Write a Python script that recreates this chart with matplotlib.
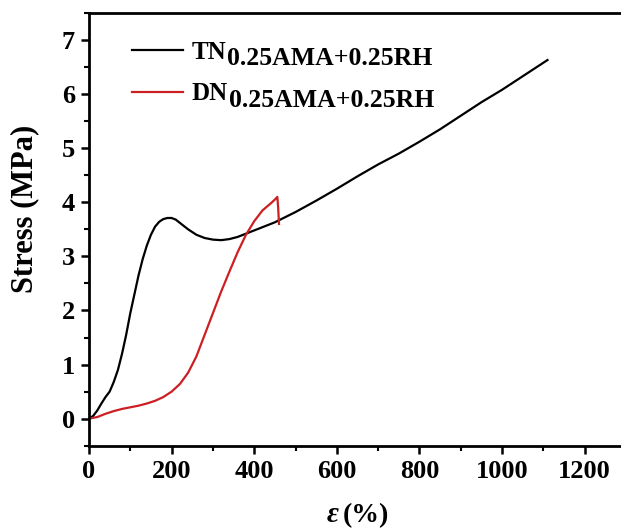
import matplotlib
matplotlib.use("Agg")
import matplotlib.pyplot as plt
from matplotlib.ticker import MultipleLocator

# Data
tn_x = [0, 10, 20, 30, 40, 50, 60, 70, 80, 90, 100, 110, 120, 130, 140, 150, 160, 170, 180,
        190, 200, 210, 220, 240, 260, 280, 300, 320, 340, 360, 380, 400, 450, 500, 550, 600,
        650, 700, 750, 800, 850, 900, 950, 1000, 1050, 1110]
tn_y = [0, 0.05, 0.15, 0.28, 0.4, 0.5, 0.68, 0.9, 1.2, 1.55, 1.95, 2.3, 2.65, 2.95, 3.2, 3.4,
        3.55, 3.64, 3.69, 3.71, 3.71, 3.68, 3.62, 3.5, 3.4, 3.34, 3.31, 3.3, 3.32, 3.36, 3.42,
        3.48, 3.63, 3.82, 4.03, 4.25, 4.48, 4.7, 4.9, 5.12, 5.35, 5.6, 5.85, 6.08, 6.33, 6.63]

dn_x = [0, 20, 40, 60, 80, 100, 120, 140, 160, 180, 200, 220, 240, 260, 280, 300, 320, 340,
        360, 380, 400, 420, 440, 450, 456, 458, 460]
dn_y = [0, 0.03, 0.09, 0.14, 0.18, 0.21, 0.24, 0.28, 0.33, 0.4, 0.5, 0.64, 0.85, 1.15, 1.55,
        1.95, 2.35, 2.72, 3.08, 3.4, 3.65, 3.85, 3.98, 4.05, 4.1, 3.9, 3.6]

x_ticks = [0, 200, 400, 600, 800, 1000, 1200]
y_ticks = [0, 1, 2, 3, 4, 5, 6, 7]

series_main = ['TN', 'DN']
series_sub = ['0.25AMA+0.25RH', '0.25AMA+0.25RH']
series_colors = ['black', '#cc1f24']

plt.rcParams['font.family'] = ['Liberation Serif', 'DejaVu Serif']

fig = plt.figure(figsize=(6.21, 5.32), dpi=100)
ax = fig.add_axes([0.1433, 0.1622, 0.8647, 0.8134])

ax.plot(tn_x, tn_y, color=series_colors[0], lw=1.6, label=series_main[0])
ax.plot(dn_x, dn_y, color=series_colors[1], lw=1.6, label=series_main[1])

ax.set_xlim(0, 1300)
ax.set_ylim(-0.5, 7.5)
ax.set_xticks(x_ticks)
ax.set_yticks(y_ticks)
ax.xaxis.set_minor_locator(MultipleLocator(100))
ax.yaxis.set_minor_locator(MultipleLocator(0.5))
ax.tick_params(which='major', direction='out', length=6, width=1.8, labelsize=19, pad=4)
ax.tick_params(which='minor', direction='out', length=3.5, width=1.5)
for lab in ax.get_xticklabels() + ax.get_yticklabels():
    lab.set_fontweight('bold')
for s in ax.spines.values():
    s.set_linewidth(2)

ax.set_ylabel('Stress (MPa)', fontsize=22, fontweight='bold')
ax.yaxis.set_label_coords(-0.093, 0.547)

# x label: italic epsilon + (%)
xl_y = 0.019
fig.text(0.5266, xl_y, 'ε', fontsize=21, fontstyle='italic', fontweight='bold',
         ha='left', va='baseline')
fig.text(0.5523, xl_y, '(%)', fontsize=20, fontweight='bold', ha='left', va='baseline')

leg = ax.legend(loc='upper left', bbox_to_anchor=(0.080, 0.936), frameon=False,
                prop={'size': 18, 'weight': 'bold'}, borderpad=0, borderaxespad=0,
                handlelength=2.04, handletextpad=0.36, labelspacing=0.75)
fig.canvas.draw()
for txt, sub in zip(leg.get_texts(), series_sub):
    ax.annotate(sub, xy=(1.0, 0.0), xycoords=txt, xytext=(0.5, -1.2),
                textcoords='offset points', ha='left', va='baseline',
                fontsize=18.5, fontweight='bold')

fig.savefig('out.png', dpi=100)
